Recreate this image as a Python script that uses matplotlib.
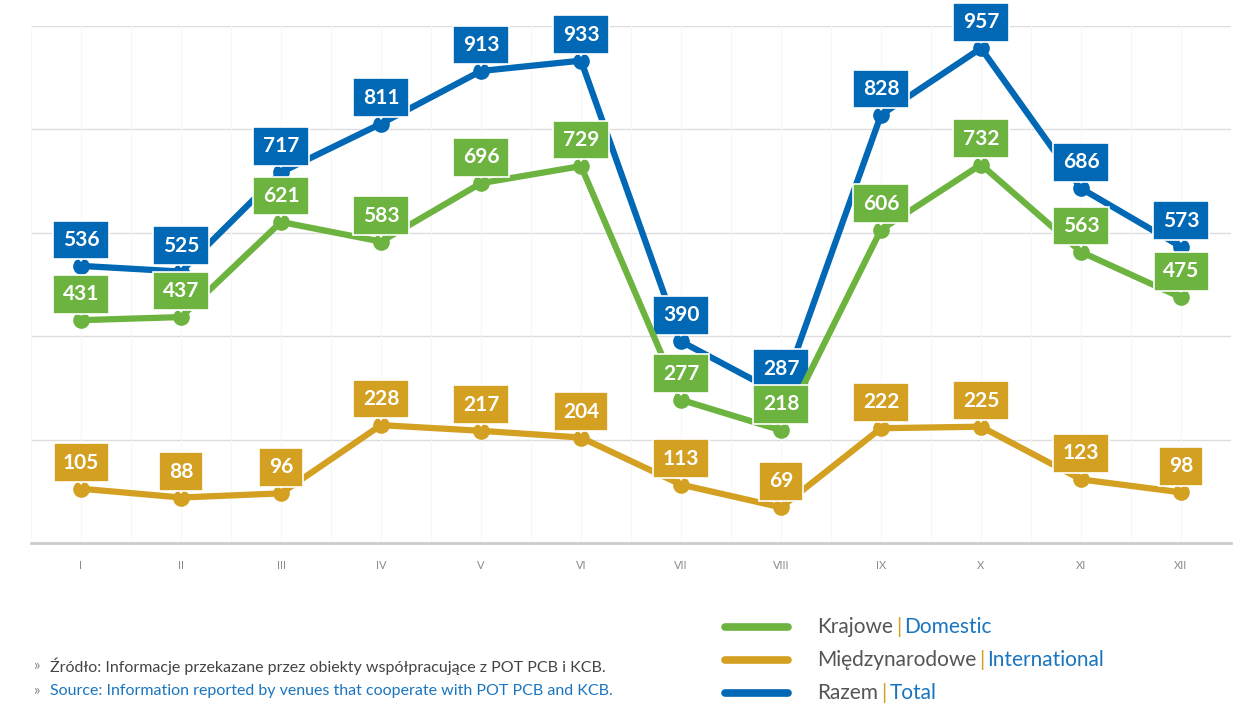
import matplotlib
matplotlib.use("Agg")
import matplotlib.pyplot as plt
from matplotlib.lines import Line2D
from matplotlib.transforms import offset_copy

plt.rcParams['font.family'] = ['Lato', 'DejaVu Sans']

months = ["I", "II", "III", "IV", "V", "VI", "VII", "VIII", "IX", "X", "XI", "XII"]
razem = [536, 525, 717, 811, 913, 933, 390, 287, 828, 957, 686, 573]
krajowe = [431, 437, 621, 583, 696, 729, 277, 218, 606, 732, 563, 475]
miedzynarodowe = [105, 88, 96, 228, 217, 204, 113, 69, 222, 225, 123, 98]

blue = "#0068b4"
green = "#6db33f"
gold = "#d3a021"

fig = plt.figure(figsize=(12.47, 7.04), dpi=100)
ax = fig.add_axes([31 / 1247, 1 - 543 / 704, 1200 / 1247, 517 / 704])

x = list(range(len(months)))
ax.set_xlim(-0.5, 11.5)
ax.set_ylim(0, 1000)

# grid
for gy in [200, 400, 600, 800, 1000]:
    ax.axhline(gy, color="#dddddd", lw=1, zorder=0)
for gx in [i * 0.5 for i in range(-1, 24)]:
    ax.axvline(gx, color="#f7f7f7", lw=0.8, zorder=0)
for s in ["top", "right", "left"]:
    ax.spines[s].set_visible(False)
ax.spines["bottom"].set_color("#cccccc")
ax.spines["bottom"].set_linewidth(2)
ax.set_yticks([])
ax.set_xticks(x)
ax.set_xticklabels(months, color="#8a8a8a", fontsize=8)
ax.tick_params(axis="x", length=0, pad=12)

series = [(razem, blue), (krajowe, green), (miedzynarodowe, gold)]
ptr = offset_copy(ax.transData, fig=fig, x=0, y=11, units="dots")
for k, (vals, col) in enumerate(series):
    z = 2 + k * 3
    ax.plot(x, vals, color=col, lw=4.5, zorder=z, solid_capstyle="butt")
    ax.plot(x, vals, "o", color=col, ms=12, mec="none", zorder=z + 0.5)
    ax.plot(x, vals, "v", color=col, ms=9, mec="white", mew=1.3,
            transform=ptr, zorder=z + 1)
    for xi, v in zip(x, vals):
        ax.annotate(str(v), (xi, v), xytext=(0, 26), textcoords="offset pixels",
                    ha="center", va="center", color="white", fontsize=15,
                    fontweight="bold", zorder=z + 2,
                    bbox=dict(boxstyle="square,pad=0.45", fc=col, ec="white", lw=1.2))

# legend
legend_items = [("Krajowe", "Domestic", green),
                ("Międzynarodowe", "International", gold),
                ("Razem", "Total", blue)]
fig.canvas.draw()
r = fig.canvas.get_renderer()
for i, (pl, en, col) in enumerate(legend_items):
    yy = 1 - (627 + i * 33) / 704
    fig.add_artist(Line2D([725 / 1247, 788 / 1247], [yy, yy], color=col, lw=5.5,
                          solid_capstyle="round"))
    t1 = fig.text(817 / 1247, yy, pl, color="#555555", fontsize=15, va="center")
    bb = t1.get_window_extent(r)
    t2 = fig.text((bb.x1 + 3) / 1247, yy, "|", color=gold, fontsize=15, va="center")
    bb2 = t2.get_window_extent(r)
    fig.text((bb2.x1 + 3) / 1247, yy, en, color="#1a75c0", fontsize=15, va="center")

# source
fig.text(33 / 1247, 1 - 666 / 704, "»", color="#888888", fontsize=11, va="center")
fig.text(50 / 1247, 1 - 666 / 704,
         "Źródło: Informacje przekazane przez obiekty współpracujące z POT PCB i KCB.",
         color="#444444", fontsize=11.5, va="center")
fig.text(33 / 1247, 1 - 691 / 704, "»", color="#888888", fontsize=11, va="center")
fig.text(50 / 1247, 1 - 691 / 704,
         "Source: Information reported by venues that cooperate with POT PCB and KCB.",
         color="#1a75c0", fontsize=11.5, va="center")

fig.savefig("out.png", dpi=100, facecolor="white")
